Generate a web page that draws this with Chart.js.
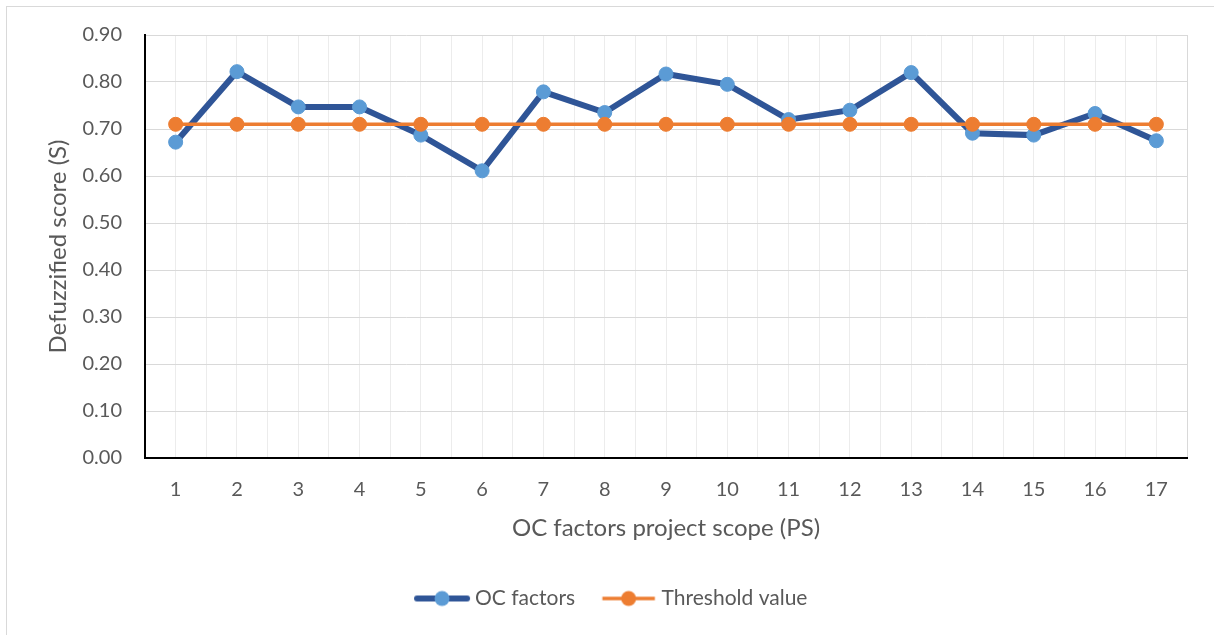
<!DOCTYPE html>
<html><head><meta charset="utf-8">
<script src="https://cdn.jsdelivr.net/npm/chart.js@4/dist/chart.umd.min.js"></script>
<style>html,body{margin:0;padding:0;background:#fff;overflow:hidden}#wrap{width:1214px;height:635px;position:relative}</style>
</head><body><div id="wrap"><canvas id="c" width="1214" height="635"></canvas></div>
<script>
const categories = ['1','2','3','4','5','6','7','8','9','10','11','12','13','14','15','16','17'];
const ocFactors = [0.672,0.822,0.747,0.747,0.687,0.611,0.779,0.735,0.817,0.795,0.720,0.740,0.820,0.691,0.687,0.733,0.675];
const thresholdValues = [0.71,0.71,0.71,0.71,0.71,0.71,0.71,0.71,0.71,0.71,0.71,0.71,0.71,0.71,0.71,0.71,0.71];
const seriesNames = ['OC factors','Threshold value'];
const xTitle = 'OC factors project scope (PS)';
const yTitle = 'Defuzzified score (S)';

const TXT = '#595959';
const FONT = 'Lato';

function legendIcon(lineColor, dotColor, lw, cap) {
  const cv = document.createElement('canvas');
  cv.width = 58; cv.height = 18;
  const c = cv.getContext('2d');
  c.strokeStyle = lineColor; c.lineWidth = lw; c.lineCap = cap;
  c.beginPath(); c.moveTo(lw/2 + 1, 9); c.lineTo(57 - lw/2, 9); c.stroke();
  c.fillStyle = dotColor;
  c.beginPath(); c.arc(29, 9, 7.5, 0, Math.PI*2); c.fill();
  return cv;
}
const icons = [legendIcon('#2f5597','#5b9bd5',6,'round'), legendIcon('#ed7d31','#ed7d31',3.5,'butt')];

const bgPlugin = {
  id: 'bg',
  beforeDraw(chart) {
    const ctx = chart.ctx;
    ctx.save();
    ctx.fillStyle = '#fff';
    ctx.fillRect(0, 0, chart.width, chart.height);
    ctx.strokeStyle = '#d9d9d9';
    ctx.lineWidth = 1;
    ctx.strokeRect(6.5, 6.5, 1400, 800);
    ctx.restore();
  }
};

new Chart(document.getElementById('c'), {
  type: 'line',
  data: {
    labels: categories,
    datasets: [
      { label: seriesNames[0], data: ocFactors, borderColor: '#2f5597', borderWidth: 6,
        pointBackgroundColor: '#5b9bd5', pointBorderColor: '#5b9bd5', pointRadius: 7, pointBorderWidth: 1,
        order: 2, tension: 0 },
      { label: seriesNames[1], data: thresholdValues, borderColor: '#ed7d31', borderWidth: 3.5,
        pointBackgroundColor: '#ed7d31', pointBorderColor: '#ed7d31', pointRadius: 7, pointBorderWidth: 1,
        order: 1, tension: 0 }
    ]
  },
  options: {
    responsive: false,
    animation: false,
    devicePixelRatio: 1,
    layout: { padding: { left: 40, right: 27, top: 35, bottom: 16 } },
    plugins: {
      tooltip: { enabled: false },
      legend: {
        position: 'bottom',
        labels: {
          color: TXT,
          font: { family: FONT, size: 21 },
          usePointStyle: true,
          pointStyleWidth: 45,
          padding: 31,
          generateLabels: (chart) => seriesNames.map((n, i) => ({
            text: n, pointStyle: icons[i], fillStyle: 'transparent', strokeStyle: 'transparent',
            lineWidth: 0, datasetIndex: i, fontColor: TXT, hidden: false
          }))
        }
      }
    },
    scales: {
      x: {
        type: 'category',
        offset: true,
        grid: { color: '#ececec', lineWidth: 1, drawTicks: false, offset: false },
        border: { display: true, color: '#000', width: 2 },
        ticks: { color: TXT, font: { family: FONT, size: 20 }, padding: 20, maxRotation: 0, autoSkip: false },
        title: { display: true, text: xTitle, color: TXT, font: { family: FONT, size: 24 }, padding: { top: 4, bottom: 14 } },
        afterFit: (s) => { s.height = 99; }
      },
      x2: {
        type: 'linear',
        position: 'top',
        min: 0.5, max: 17.5,
        afterBuildTicks: (s) => { s.ticks = categories.concat(['end']).map((c, i) => ({ value: i + 0.5 })); },
        grid: { drawTicks: false, lineWidth: 1,
          color: (ctx) => (ctx.tick && ctx.tick.value === 0.5) ? 'rgba(0,0,0,0)' : (ctx.tick && ctx.tick.value === 17.5 ? '#d9d9d9' : '#ececec') },
        border: { display: false },
        ticks: { display: false },
        afterFit: (s) => { s.height = 0; }
      },
      y: {
        min: 0, max: 0.9,
        ticks: { stepSize: 0.1, color: TXT, font: { family: FONT, size: 20 }, padding: 23,
          callback: (v) => Number(v).toFixed(2) },
        grid: { color: '#d9d9d9', lineWidth: 1, drawTicks: false },
        border: { display: true, color: '#000', width: 2 },
        title: { display: true, text: yTitle, color: TXT, font: { family: FONT, size: 24 }, padding: { top: 4, bottom: 4 } },
        afterFit: (s) => { s.width = 105; }
      }
    }
  },
  plugins: [bgPlugin]
});
</script>
</body></html>
